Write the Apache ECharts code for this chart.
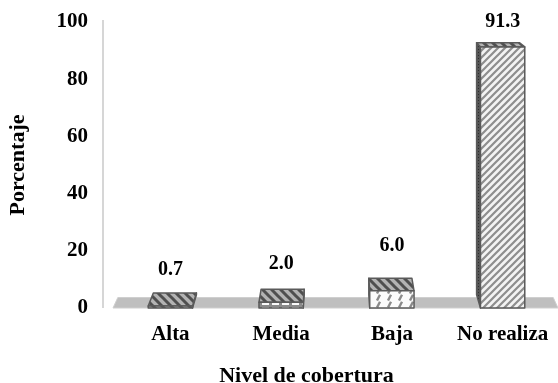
<!DOCTYPE html>
<html>
<head>
<meta charset="utf-8">
<script src="https://cdn.jsdelivr.net/npm/echarts@6/dist/echarts.min.js"></script>
<style>
  html, body { margin: 0; padding: 0; background: #fff; }
  #chart { width: 558px; height: 383px; }
</style>
</head>
<body>
<div id="chart"></div>
<script>
// Coverage levels and their share (%)
const categories = ['Alta', 'Media', 'Baja', 'No realiza'];
const values = [0.7, 2.0, 6.0, 91.3];
const yTicks = [0, 20, 40, 60, 80, 100];

const FONT = "'Liberation Serif', 'Times New Roman', serif";

// ---- fill patterns -------------------------------------------------------
function tile(w, h, bg, draw) {
  const c = document.createElement('canvas');
  c.width = w; c.height = h;
  const g = c.getContext('2d');
  g.fillStyle = bg;
  g.fillRect(0, 0, w, h);
  draw(g, w, h);
  return { image: c, repeat: 'repeat' };
}
function diag(s, bg, fg, lw, forward) {
  return tile(s, s, bg, (g) => {
    g.strokeStyle = fg; g.lineWidth = lw; g.lineCap = 'square';
    g.beginPath();
    for (let k = -1; k <= 1; k++) {
      if (forward) { g.moveTo(k * s, s); g.lineTo(k * s + s, 0); }
      else { g.moveTo(k * s, 0); g.lineTo(k * s + s, s); }
    }
    g.stroke();
  });
}
const topFill = diag(9, '#b3b3b3', '#4f4f4f', 3, false);
const denseFill = diag(7, '#f3f3f3', '#8e8e8e', 2.2, true);
const brickFill = tile(10, 6, '#8a8a8a', (g) => {
  g.fillStyle = '#fafafa'; g.fillRect(2, 1, 7, 4);
});
const dashFill = tile(11, 7, '#fbfbfb', (g) => {
  g.strokeStyle = '#8a8a8a'; g.lineWidth = 2.4;
  g.beginPath(); g.moveTo(3, 6.5); g.lineTo(6, 0.8); g.stroke();
});
const sideFill = tile(3, 3, '#565656', (g) => {
  g.fillStyle = '#2e2e2e'; g.fillRect(1, 1, 1, 1);
});
const frontFills = [topFill, brickFill, dashFill, denseFill];
const EDGE = '#5a5a5a';

// ---- simple perspective toward a point above the plot ---------------------
const KX = 0.027, KY = 0.0349, KF = 0.8;
function vanish(cs) {
  return [cs.x + cs.width * 0.5, cs.y - 90];
}
function toBack(p, v, f) {
  return [p[0] + KX * f * (v[0] - p[0]), p[1] + KY * f * (v[1] - p[1])];
}

function renderScene(params, api) {
  const cs = params.coordSys;
  const v = vanish(cs);
  const yf = cs.y + cs.height;
  const fl = [cs.x - 2, yf], fr = [cs.x + cs.width, yf];
  const bl = toBack(fl, v, KF), br = toBack(fr, v, KF);
  return {
    type: 'group',
    children: [
      { type: 'line', shape: { x1: cs.x - 12, y1: cs.y - 2, x2: cs.x - 12, y2: yf },
        style: { stroke: '#d6d6d6', lineWidth: 2 } },
      { type: 'polygon', shape: { points: [fl, fr, br, bl] },
        style: { fill: '#bfbfbf', stroke: '#cfcfcf', lineWidth: 1 } }
    ]
  };
}

function renderBar(params, api) {
  const cs = params.coordSys;
  const v = vanish(cs);
  const i = api.value(0), val = api.value(1);
  const base = api.coord([i, 0]);
  const top = api.coord([i, val]);
  const w = api.size([1, 0])[0] * 0.4;
  const xl = base[0] - w / 2, xr = base[0] + w / 2;
  const yb = base[1], yt = top[1];
  const ftl = [xl, yt], ftr = [xr, yt], fbl = [xl, yb], fbr = [xr, yb];
  const btl = toBack(ftl, v, 1), btr = toBack(ftr, v, 1);
  const bbl = toBack(fbl, v, 1), bbr = toBack(fbr, v, 1);
  const stroke = { stroke: EDGE, lineWidth: 1.5, lineJoin: 'round' };
  const children = [];
  if (btr[0] > xr + 0.5) {
    children.push({ type: 'polygon', shape: { points: [ftr, btr, bbr, fbr] },
      style: Object.assign({ fill: sideFill }, stroke) });
  } else if (btl[0] < xl - 0.5) {
    children.push({ type: 'polygon', shape: { points: [ftl, btl, bbl, fbl] },
      style: Object.assign({ fill: sideFill }, stroke) });
  }
  children.push({ type: 'polygon', shape: { points: [ftl, ftr, btr, btl] },
    style: Object.assign({ fill: topFill }, stroke) });
  children.push({ type: 'polygon', shape: { points: [ftl, ftr, fbr, fbl] },
    style: Object.assign({ fill: frontFills[i] }, stroke) });
  // value label floats above the bar, kept inside the plot area
  const ly = Math.max(cs.y, yt - 35 - 0.6 * (yb - yt));
  children.push({ type: 'text', x: base[0], y: ly,
    style: { text: val.toFixed(1), fill: '#000', font: 'bold 20px ' + FONT,
      textAlign: 'center', textVerticalAlign: 'middle' } });
  return { type: 'group', children };
}

const chart = echarts.init(document.getElementById('chart'), null, { renderer: 'canvas' });
chart.setOption({
  animation: false,
  backgroundColor: '#fff',
  grid: { left: 115, right: 0, top: 22, bottom: 75, containLabel: false, outerBoundsMode: 'none' },
  xAxis: {
    type: 'category',
    data: categories,
    axisLine: { show: false },
    axisTick: { show: false },
    axisLabel: { interval: 0, hideOverlap: false, margin: 16, color: '#000',
      fontFamily: FONT, fontWeight: 'bold', fontSize: 21 },
    name: 'Nivel de cobertura',
    nameLocation: 'middle',
    nameGap: 57,
    nameTextStyle: { color: '#000', fontFamily: FONT, fontWeight: 'bold', fontSize: 22, padding: [0, 60, 0, 0] }
  },
  yAxis: {
    type: 'value',
    min: yTicks[0],
    max: yTicks[yTicks.length - 1],
    interval: yTicks[1] - yTicks[0],
    axisLine: { show: false },
    axisTick: { show: false },
    splitLine: { show: false },
    axisLabel: { margin: 27, color: '#000', fontFamily: FONT, fontWeight: 'bold', fontSize: 21 },
    name: 'Porcentaje',
    nameLocation: 'middle',
    nameGap: 86,
    nameTextStyle: { color: '#000', fontFamily: FONT, fontWeight: 'bold', fontSize: 22 }
  },
  series: [
    { type: 'custom', name: 'floor', renderItem: renderScene, data: [[0, 0]], silent: true, z: 1 },
    { type: 'custom', name: 'Porcentaje', renderItem: renderBar,
      data: values.map((v, i) => [i, v]), z: 2, clip: false }
  ]
});
</script>
</body>
</html>
